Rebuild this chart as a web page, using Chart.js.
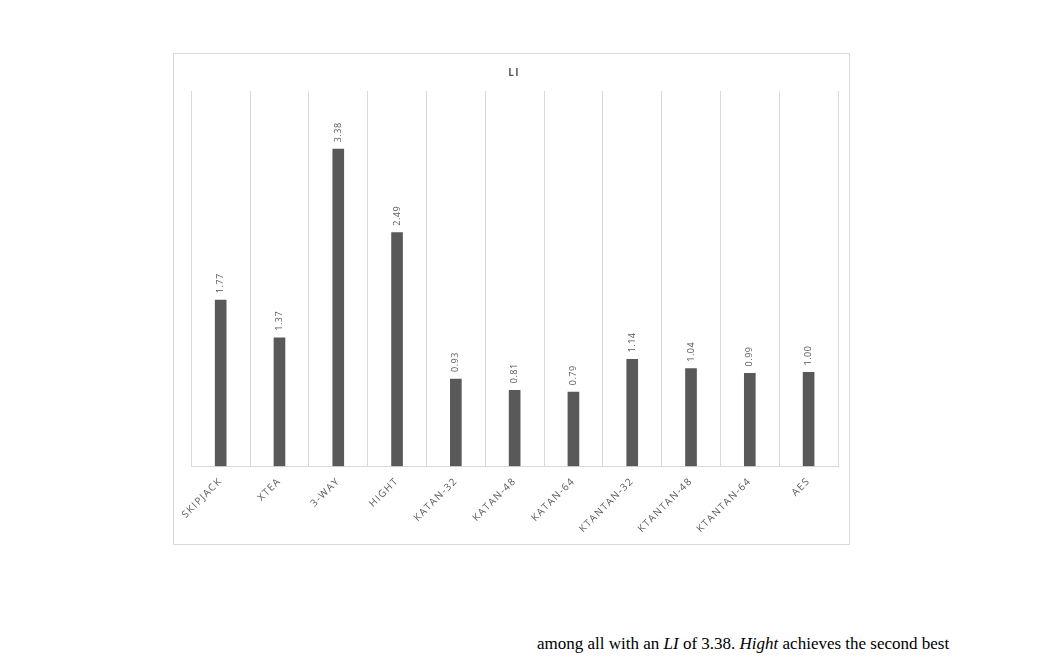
<!DOCTYPE html>
<html>
<head>
<meta charset="utf-8">
<script src="https://cdn.jsdelivr.net/npm/chart.js@4/dist/chart.umd.min.js"></script>
<style>
  body { margin: 0; background: #fff; width: 1044px; height: 657px; overflow: hidden; position: relative; }
  #boite { position: absolute; left: 173px; top: 53px; width: 675px; height: 490px; border: 1px solid #d9d9d9; }
  #texte { position: absolute; left: 537px; top: 634px; font-family: "Liberation Serif", "DejaVu Serif", serif; font-size: 17px; color: #000; white-space: nowrap; }
</style>
</head>
<body>
<div id="boite"><canvas id="graphique" width="675" height="490"></canvas></div>
<div id="texte">among all with an <i>LI</i> of 3.38. <i>Hight</i> achieves the second best</div>
<script>
const categories = ['SKIPJACK', 'XTEA', '3-WAY', 'HIGHT', 'KATAN-32', 'KATAN-48', 'KATAN-64', 'KTANTAN-32', 'KTANTAN-48', 'KTANTAN-64', 'AES'];
const valeursLI = [1.77, 1.37, 3.38, 2.49, 0.93, 0.81, 0.79, 1.14, 1.04, 0.99, 1.00];

// espacement des lettres façon Excel (mesure et dessin)
const espacement = {
  id: 'espacement',
  beforeLayout(chart) { chart.ctx.letterSpacing = '1.3px'; },
  beforeDraw(chart) { chart.ctx.letterSpacing = '1.3px'; }
};

// étiquettes de valeur verticales au-dessus des barres
const etiquettesValeurs = {
  id: 'etiquettesValeurs',
  afterDatasetsDraw(chart) {
    const ctx = chart.ctx;
    const meta = chart.getDatasetMeta(0);
    ctx.save();
    ctx.letterSpacing = '0.5px';
    ctx.font = '9px "Open Sans", sans-serif';
    ctx.fillStyle = '#595959';
    ctx.textAlign = 'left';
    ctx.textBaseline = 'middle';
    meta.data.forEach((barre, i) => {
      ctx.save();
      ctx.translate(barre.x, barre.y - 7);
      ctx.rotate(-Math.PI / 2);
      ctx.fillText(valeursLI[i].toFixed(2), 0, 0);
      ctx.restore();
    });
    ctx.restore();
  }
};

const ctx = document.getElementById('graphique').getContext('2d');
new Chart(ctx, {
  type: 'bar',
  data: {
    labels: categories,
    datasets: [{
      label: 'LI',
      data: valeursLI,
      backgroundColor: '#595959',
      barThickness: 11
    }]
  },
  options: {
    responsive: false,
    animation: false,
    layout: { padding: { left: 16, right: 11, top: 0, bottom: 0 } },
    plugins: {
      legend: { display: false },
      tooltip: { enabled: false },
      title: {
        display: true,
        text: 'LI',
        color: '#595959',
        font: { family: '"Open Sans", sans-serif', size: 10, weight: 'bold' },
        padding: { top: 13, bottom: 12 }
      }
    },
    scales: {
      x: {
        offset: true,
        grid: { offset: true, color: '#d9d9d9', drawTicks: false },
        border: { color: '#d9d9d9' },
        ticks: {
          color: '#595959',
          font: { family: '"Open Sans", sans-serif', size: 10 },
          maxRotation: 45,
          minRotation: 45,
          padding: 9
        }
      },
      y: {
        display: false,
        min: 0,
        max: 4
      }
    }
  },
  plugins: [espacement, etiquettesValeurs]
});
</script>
</body>
</html>
